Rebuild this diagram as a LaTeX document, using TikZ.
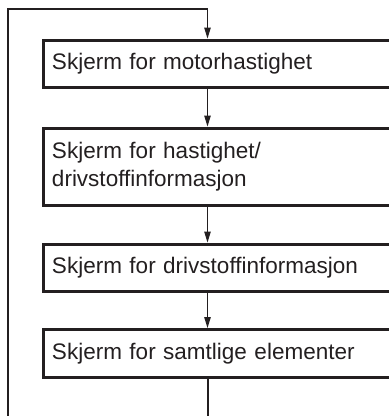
\documentclass[tikz,border=0pt]{standalone}
\usepackage{fontspec}
\setmainfont{Liberation Sans}
\usetikzlibrary{arrows.meta,positioning}
\definecolor{inkgray}{RGB}{35,31,32}

\begin{document}
\begin{tikzpicture}[
        x=1pt, y=1pt,
        node distance=36pt,
        every node/.style={font=\fontsize{22.5}{28}\selectfont, text=inkgray},
        screenbox/.style={rectangle, draw=inkgray, line width=3pt, minimum height=47.5pt, text width=329.5pt, inner xsep=8.5pt, align=left},
        arrow/.style={draw=inkgray, line width=1pt, -{Triangle[length=11pt,width=6.5pt]}},
        loopline/.style={draw=inkgray, line width=2pt}
    ]
    \useasboundingbox (0,0) rectangle (389,-416);
    \clip (0,0) rectangle (389,-416);

    % Nodes
    \node[screenbox, anchor=north west] (motor) at (42,-38.5) {Skjerm for motorhastighet};
    \node[screenbox, minimum height=77pt, below=37.5pt of motor] (speedfuel) {Skjerm for hastighet/\\drivstoffinformasjon};
    \node[screenbox, below=36pt of speedfuel] (fuel) {Skjerm for drivstoffinformasjon};
    \node[screenbox, below=35pt of fuel] (all) {Skjerm for samtlige elementer};

    % Loop points
    \coordinate (spine) at (207.5,0);
    \coordinate (looptop) at (207.5,-9);
    \coordinate (bottomleft) at (7.5,-430);

    % Arrows
    \draw[arrow] (motor.south -| spine) -- (speedfuel.north -| spine);
    \draw[arrow] (speedfuel.south -| spine) -- (fuel.north -| spine);
    \draw[arrow] (fuel.south -| spine) -- (all.north -| spine);

    % Loop back
    \draw[loopline] (all.south -| spine) |- (bottomleft) |- (looptop);
    \draw[arrow] (looptop) -- (motor.north -| spine);
\end{tikzpicture}
\end{document}
